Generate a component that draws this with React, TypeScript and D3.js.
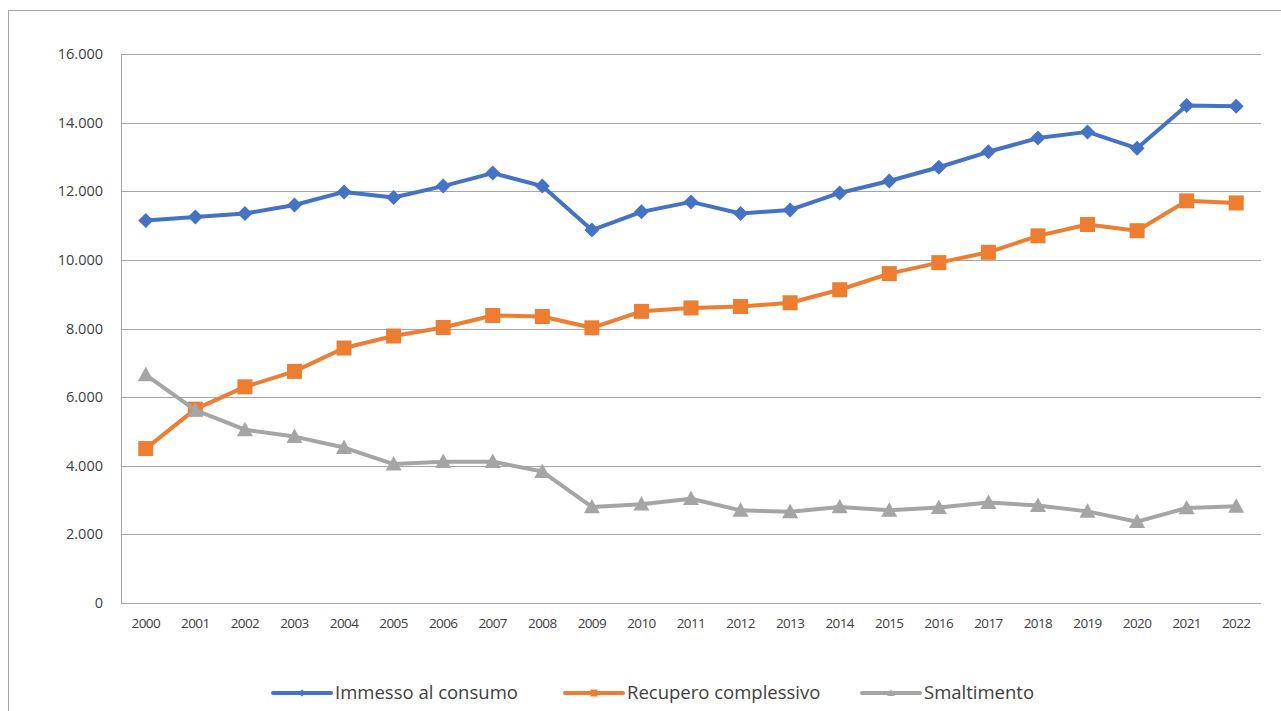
import React from "react";
import * as d3 from "d3";

const years = ["2000","2001","2002","2003","2004","2005","2006","2007","2008","2009","2010","2011","2012","2013","2014","2015","2016","2017","2018","2019","2020","2021","2022"];
const immesso = [11150,11250,11350,11600,11980,11820,12150,12530,12150,10870,11400,11690,11350,11455,11950,12300,12700,13150,13550,13730,13250,14500,14480];
const recupero = [4500,5650,6300,6750,7430,7780,8030,8380,8350,8020,8500,8600,8640,8750,9130,9600,9920,10220,10700,11030,10850,11720,11660];
const smaltimento = [6650,5620,5050,4850,4530,4050,4120,4120,3830,2800,2880,3040,2700,2660,2800,2700,2780,2930,2840,2670,2370,2770,2820];
const yTicks = [0,2000,4000,6000,8000,10000,12000,14000,16000];
const seriesNames = ["Immesso al consumo","Recupero complessivo","Smaltimento"];

const W = 1281, H = 711;
const left = 121, right = 1261, top = 54, bottom = 603;
const colors = ["#4472C4", "#ED7D31", "#A5A5A5"];
const font = "'Open Sans', 'Noto Sans', sans-serif";

function Marker({ kind, x, y, color, s = 7.5 }: { kind: number; x: number; y: number; color: string; s?: number }) {
  if (kind === 0) {
    return <path d={`M${x},${y - s}L${x + s},${y}L${x},${y + s}L${x - s},${y}Z`} fill={color} />;
  }
  if (kind === 1) {
    return <rect x={x - s} y={y - s} width={2 * s} height={2 * s} fill={color} />;
  }
  const t = s * 1.07;
  return <path d={`M${x},${y - t}L${x + t},${y + t * 0.8}L${x - t},${y + t * 0.8}Z`} fill={color} />;
}

export default function App() {
  const x = d3.scaleBand<string>().domain(years).range([left, right]);
  const y = d3.scaleLinear().domain([0, 16000]).range([bottom, top]);
  const cx = (d: string) => (x(d) as number) + x.bandwidth() / 2;
  const fmt = (v: number) => d3.format(",")(v).replace(/,/g, ".");
  const data = [immesso, recupero, smaltimento];
  const line = d3.line<number>().x((_, i) => cx(years[i])).y((v) => y(v));
  const legendX = [273, 565, 862];
  const ly = 693;

  return (
    <svg width={W} height={H} style={{ position: "absolute", left: 0, top: 0, background: "#fff" }} fontFamily={font}>
      <rect x={8.5} y={10.5} width={W + 10} height={H + 10} fill="none" stroke="#A6A6A6" strokeWidth={1} />
      {yTicks.map((t) => (
        <g key={t}>
          <line x1={left} x2={right} y1={Math.round(y(t)) + 0.5} y2={Math.round(y(t)) + 0.5} stroke="#A6A6A6" strokeWidth={1} />
          <text x={103} y={y(t)} dy="0.35em" textAnchor="end" fontSize={14.5} fill="#404040">{fmt(t)}</text>
        </g>
      ))}
      <line x1={left + 0.5} x2={left + 0.5} y1={top} y2={bottom} stroke="#A6A6A6" strokeWidth={1} />
      {years.map((yr) => (
        <text key={yr} x={cx(yr)} y={623} dy="0.35em" textAnchor="middle" fontSize={13.5} letterSpacing={-0.6} fill="#404040">{yr}</text>
      ))}
      {data.map((vals, si) => (
        <g key={si}>
          <path d={line(vals) as string} fill="none" stroke={colors[si]} strokeWidth={4} strokeLinejoin="round" />
          {vals.map((v, i) => (
            <Marker key={i} kind={si} x={cx(years[i])} y={y(v)} color={colors[si]} />
          ))}
        </g>
      ))}
      {seriesNames.map((n, si) => (
        <g key={n}>
          <line x1={legendX[si]} x2={legendX[si] + 58} y1={ly} y2={ly} stroke={colors[si]} strokeWidth={4} strokeLinecap="round" />
          <Marker kind={si} x={legendX[si] + 29} y={ly} color={colors[si]} s={3.5} />
          <text x={legendX[si] + 62} y={ly} dy="0.35em" fontSize={18.5} fill="#404040">{n}</text>
        </g>
      ))}
    </svg>
  );
}
